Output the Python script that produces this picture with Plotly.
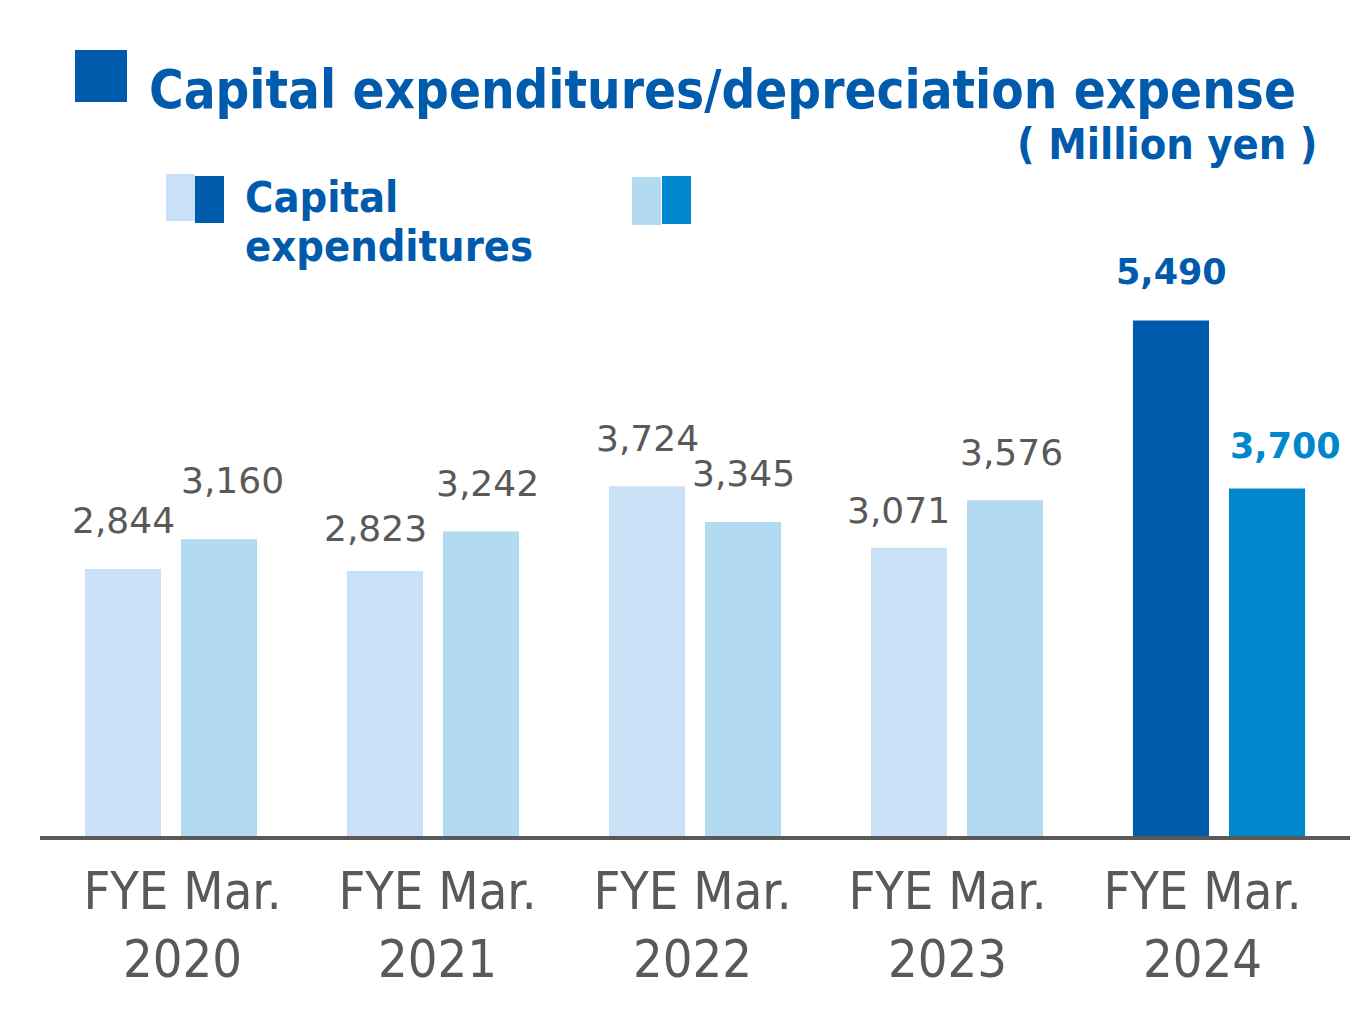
import plotly.graph_objects as go

categories = ["FYE Mar.<br>2020", "FYE Mar.<br>2021", "FYE Mar.<br>2022", "FYE Mar.<br>2023", "FYE Mar.<br>2024"]
capex = [2844, 2823, 3724, 3071, 5490]
depreciation = [3160, 3242, 3345, 3576, 3700]

# styling
W, H = 1367, 1020
ML, MR, MT, MB = 40, 17, 60, 184
PW, PH = W - ML - MR, H - MT - MB
YMAX = PH / 0.0939

GRAY = "#595959"
BLUE = "#005BAC"
MID = "#0088CC"
CAPEX_LIGHT = "#C9E0F6"
DEP_LIGHT = "#B2DAF0"
COND = "DejaVu Sans Condensed"
SANS = "DejaVu Sans"

capex_colors = [CAPEX_LIGHT] * 4 + [BLUE]
dep_colors = [DEP_LIGHT] * 4 + [MID]

# label nudges (px) relative to default position above each bar
capex_dx = [0, -10, 0, -11, 0]
capex_dy = [48, 42, 48, 37, 48]
dep_dx = [13, 6, 0, 6, 18]
dep_dy = [59, 48, 48, 48, 43]


def px(x):
    return (x - ML) / PW


def py(y):
    return (H - MB - y) / PH


fig = go.Figure()
fig.add_trace(go.Bar(x=categories, y=capex, marker=dict(color=capex_colors, line=dict(width=0)),
                     name="Capital expenditures", hoverinfo="skip"))
fig.add_trace(go.Bar(x=categories, y=depreciation, marker=dict(color=dep_colors, line=dict(width=0)),
                     name="Depreciation expense", hoverinfo="skip"))
# invisible trace carrying the category tick labels on a second x axis
fig.add_trace(go.Scatter(x=categories, y=[0] * len(categories), xaxis="x2", mode="markers",
                         marker=dict(opacity=0), hoverinfo="skip", showlegend=False))

annotations = []
for i, c in enumerate(categories):
    last = i == len(categories) - 1
    annotations.append(dict(
        x=c, y=capex[i], xref="x", yref="y", text=f"{capex[i]:,}", showarrow=False,
        xanchor="center", yanchor="middle", xshift=-48 + capex_dx[i], yshift=capex_dy[i],
        font=dict(family=SANS, size=36 if not last else 35, color=BLUE if last else GRAY,
                  weight="bold" if last else "normal")))
    annotations.append(dict(
        x=c, y=depreciation[i], xref="x", yref="y", text=f"{depreciation[i]:,}", showarrow=False,
        xanchor="center", yanchor="middle", xshift=48 + dep_dx[i], yshift=dep_dy[i],
        font=dict(family=SANS, size=36 if not last else 35, color=MID if last else GRAY,
                  weight="bold" if last else "normal")))

annotations.append(dict(
    x=px(147), y=py(90), xref="paper", yref="paper", xanchor="left", yanchor="middle",
    text="Capital expenditures/depreciation expense", showarrow=False,
    font=dict(family=COND, size=52.5, color=BLUE, weight="bold")))
annotations.append(dict(
    x=px(1319), y=py(144), xref="paper", yref="paper", xanchor="right", yanchor="middle",
    text="( Million yen )", showarrow=False,
    font=dict(family=COND, size=43, color=BLUE, weight="bold")))
annotations.append(dict(
    x=px(243), y=py(197), xref="paper", yref="paper", xanchor="left", yanchor="middle",
    text="Capital", showarrow=False,
    font=dict(family=COND, size=43, color=BLUE, weight="bold")))
annotations.append(dict(
    x=px(243), y=py(246), xref="paper", yref="paper", xanchor="left", yanchor="middle",
    text="expenditures", showarrow=False,
    font=dict(family=COND, size=43, color=BLUE, weight="bold")))

shapes = [
    dict(type="rect", xref="paper", yref="paper", x0=px(75), x1=px(127), y0=py(102), y1=py(50),
         fillcolor=BLUE, line=dict(width=0)),
    dict(type="rect", xref="paper", yref="paper", x0=px(166), x1=px(195), y0=py(221), y1=py(174),
         fillcolor=CAPEX_LIGHT, line=dict(width=0)),
    dict(type="rect", xref="paper", yref="paper", x0=px(195), x1=px(224), y0=py(223), y1=py(176),
         fillcolor=BLUE, line=dict(width=0)),
    dict(type="rect", xref="paper", yref="paper", x0=px(632), x1=px(661), y0=py(225), y1=py(177),
         fillcolor=DEP_LIGHT, line=dict(width=0)),
    dict(type="rect", xref="paper", yref="paper", x0=px(662), x1=px(691), y0=py(224), y1=py(176),
         fillcolor=MID, line=dict(width=0)),
]

fig.update_layout(
    width=W, height=H,
    margin=dict(l=ML, r=MR, t=MT, b=MB),
    paper_bgcolor="white", plot_bgcolor="rgba(0,0,0,0)",
    barmode="group", bargap=0.267, bargroupgap=0.208,
    showlegend=False,
    xaxis=dict(type="category", range=[-0.5, 4.5], showline=True, linewidth=4, linecolor=GRAY,
               showticklabels=False, ticks="", showgrid=False, zeroline=False, fixedrange=True),
    xaxis2=dict(type="category", range=[-0.5, 4.5], anchor="y", side="bottom",
                domain=[px(55), px(1330)], showline=False, showgrid=False, zeroline=False,
                ticks="", tickfont=dict(family=COND, size=52, color=GRAY), ticklabelstandoff=20),
    yaxis=dict(range=[0, YMAX], visible=False, showgrid=False, zeroline=False, fixedrange=True),
    annotations=annotations,
    shapes=shapes,
)

fig.write_html("out.html")
